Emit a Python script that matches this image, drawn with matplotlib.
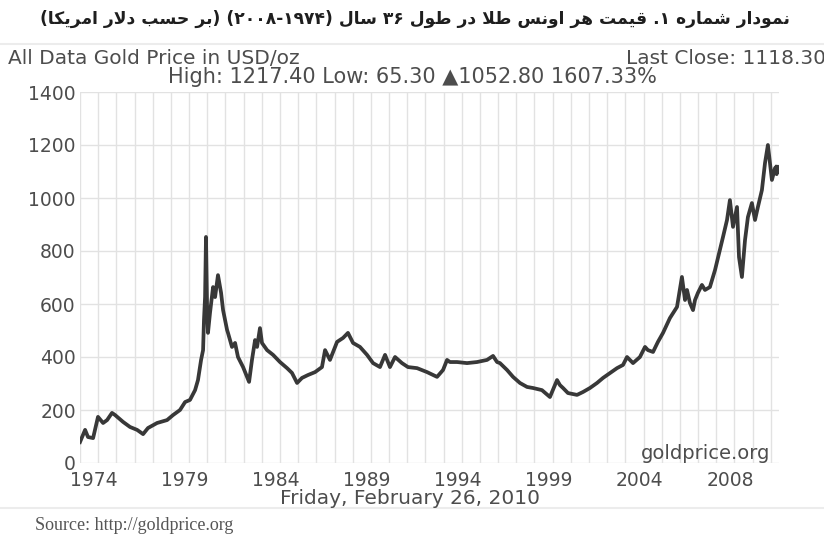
import re
import numpy as np
import matplotlib
matplotlib.use("Agg")
import matplotlib.pyplot as plt
from matplotlib.lines import Line2D

# position along the chart's time axis (0 = "1974" label, 5 per label step);
# the source chart's axis is not linear in calendar time, so values are read
# off the picture as positions, not dates
t_pos = [-0.77, -0.49, -0.33, -0.05, 0.22, 0.50, 0.72, 0.99, 1.16, 1.60,
         1.98, 2.37, 2.70, 2.97, 3.47, 4.02, 4.35, 4.73, 5.01, 5.28,
         5.56, 5.72, 5.89, 6.00, 6.05, 6.11, 6.16, 6.22, 6.27, 6.38,
         6.55, 6.66, 6.82, 6.99, 7.10, 7.21, 7.32, 7.37, 7.48, 7.59,
         7.76, 7.92, 8.20, 8.42, 8.53, 8.69, 8.86, 8.97, 9.13, 9.24,
         9.52, 9.85, 10.23, 10.62, 10.89, 11.17, 11.44, 11.77, 12.16, 12.54,
         12.71, 12.98, 13.37, 13.70, 13.97, 14.25, 14.63, 15.02, 15.35, 15.73,
         16.01, 16.28, 16.56, 16.94, 17.27, 17.77, 18.32, 18.87, 19.20, 19.42,
         19.58, 19.97, 20.52, 21.07, 21.62, 21.95, 22.17, 22.33, 22.72, 23.05,
         23.43, 23.82, 24.15, 24.64, 25.08, 25.47, 25.63, 25.80, 26.07, 26.57,
         26.90, 27.28, 27.67, 28.00, 28.39, 28.77, 29.10, 29.32, 29.65, 30.03,
         30.31, 30.47, 30.75, 31.02, 31.30, 31.68, 32.07, 32.34, 32.51, 32.62,
         32.78, 32.95, 33.06, 33.22, 33.44, 33.61, 33.88, 34.16, 34.43, 34.60,
         34.82, 34.98, 35.15, 35.37, 35.48, 35.64, 35.81, 35.97, 36.19, 36.36,
         36.52, 36.74, 36.91, 37.07, 37.29, 37.46, 37.53, 37.55, 37.57]
price = [79, 125, 98, 94, 174, 151, 162, 189, 181, 155,
         136, 125, 109, 132, 151, 162, 181, 200, 230, 238,
         275, 313, 389, 426, 540, 626, 853, 589, 491, 566,
         664, 626, 709, 642, 577, 540, 502, 491, 464, 438,
         453, 400, 362, 325, 306, 389, 464, 438, 509, 453,
         426, 408, 381, 358, 340, 302, 321, 332, 343, 362,
         426, 389, 457, 472, 491, 453, 438, 408, 377, 362,
         408, 362, 400, 377, 362, 358, 343, 325, 351, 389,
         381, 381, 377, 381, 389, 404, 381, 377, 351, 325,
         302, 287, 283, 275, 249, 313, 294, 283, 264, 257,
         268, 283, 302, 321, 340, 358, 370, 400, 377, 400,
         438, 426, 419, 457, 491, 547, 589, 702, 615, 653,
         604, 577, 615, 642, 672, 653, 664, 728, 804, 853,
         917, 992, 891, 966, 777, 702, 841, 928, 981, 917,
         966, 1030, 1132, 1200, 1068, 1113, 1118, 1090, 1118]

tick_pos = [0, 5, 10, 15, 20, 25, 30, 35]
tick_labels = ["1974", "1979", "1984", "1989", "1994", "1999", "2004", "2008"]
y_ticks = [0, 200, 400, 600, 800, 1000, 1200, 1400]

title = "نمودار شماره ۱. قیمت هر اونس طلا در طول ۳۶ سال (۲۰۰۸-۱۹۷۴) (بر حسب دلار امریکا)"

# --- minimal Persian shaping (matplotlib has no bidi / joining support) ---
FORMS = {  # isolated, final[, initial, medial]
    "ا": ("\uFE8D", "\uFE8E"),
    "د": ("\uFEA9", "\uFEAA"),
    "ر": ("\uFEAD", "\uFEAE"),
    "و": ("\uFEED", "\uFEEE"),
    "ب": ("\uFE8F", "\uFE90", "\uFE91", "\uFE92"),
    "ت": ("\uFE95", "\uFE96", "\uFE97", "\uFE98"),
    "ح": ("\uFEA1", "\uFEA2", "\uFEA3", "\uFEA4"),
    "س": ("\uFEB1", "\uFEB2", "\uFEB3", "\uFEB4"),
    "ش": ("\uFEB5", "\uFEB6", "\uFEB7", "\uFEB8"),
    "ط": ("\uFEC1", "\uFEC2", "\uFEC3", "\uFEC4"),
    "ق": ("\uFED5", "\uFED6", "\uFED7", "\uFED8"),
    "ل": ("\uFEDD", "\uFEDE", "\uFEDF", "\uFEE0"),
    "م": ("\uFEE1", "\uFEE2", "\uFEE3", "\uFEE4"),
    "ن": ("\uFEE5", "\uFEE6", "\uFEE7", "\uFEE8"),
    "ه": ("\uFEE9", "\uFEEA", "\uFEEB", "\uFEEC"),
    "ک": ("\uFB8E", "\uFB8F", "\uFB90", "\uFB91"),
    "ی": ("\uFBFC", "\uFBFD", "\uFBFE", "\uFBFF"),
}
MIRROR = {"(": ")", ")": "("}


def shape(word):
    out = []
    i = 0
    while i < len(word):
        ch = word[i]
        prev = word[i - 1] if i > 0 else None
        joins_prev = prev in FORMS and len(FORMS[prev]) == 4
        if ch == "ل" and i + 1 < len(word) and word[i + 1] == "ا":
            out.append("\uFEFC" if joins_prev else "\uFEFB")
            i += 2
            continue
        forms = FORMS[ch]
        nxt = word[i + 1] if i + 1 < len(word) else None
        joins_next = len(forms) == 4 and nxt in FORMS
        if joins_prev and joins_next:
            out.append(forms[3])
        elif joins_prev:
            out.append(forms[1])
        elif joins_next:
            out.append(forms[2])
        else:
            out.append(forms[0])
        i += 1
    return "".join(reversed(out))


def visual(text):
    words = []
    for w in reversed(text.split(" ")):
        runs = re.findall(r"[\u0600-\u06EF]+|[\u06F0-\u06F9][\u06F0-\u06F9\-]*|.", w)
        vis = []
        for r in reversed(runs):
            if r[0] in FORMS:
                vis.append(shape(r))
            else:
                vis.append(MIRROR.get(r, r))
        words.append("".join(vis))
    return " ".join(words)


W, H = 824, 537
fig = plt.figure(figsize=(W / 100, H / 100), dpi=100)
ax = fig.add_axes([80 / W, 1 - 463 / H, 699 / W, 371 / H])

txt = "#4d4d4d"
ax.plot(t_pos, price, color="#383838", lw=2.7, solid_joinstyle="round")

x0, x1 = -0.77, 37.68
ax.set_xlim(x0, x1)
ax.set_ylim(0, 1400)
ax.set_xticks(tick_pos)
ax.set_xticklabels(tick_labels)
ax.set_xticks(np.arange(x0, x1, 1.0), minor=True)
ax.set_yticks(y_ticks)
ax.tick_params(which="both", length=0, labelsize=13.5, labelcolor=txt)
ax.tick_params(axis="x", pad=6)
ax.tick_params(axis="y", pad=3)
ax.grid(True, which="minor", axis="x", color="#e2e2e2", lw=1)
ax.grid(True, which="major", axis="y", color="#e2e2e2", lw=1)
ax.set_axisbelow(True)
for s in ax.spines.values():
    s.set_visible(False)

ax.text(0.987, 0.025, "goldprice.org", transform=ax.transAxes, ha="right",
        va="center", fontsize=14, color=txt)

fig.text(415 / W, 1 - 19 / H, visual(title), ha="center", va="center",
         fontsize=12.3, fontweight="bold", color="#1e1e1e", family="DejaVu Sans")
fig.text(8 / W, 1 - 58 / H, "All Data Gold Price in USD/oz", ha="left",
         va="center", fontsize=14.5, color=txt)
fig.text(1.002, 1 - 58 / H, "Last Close: 1118.30", ha="right",
         va="center", fontsize=14.5, color=txt)
fig.text(412 / W, 1 - 77 / H, "High: 1217.40 Low: 65.30 \u25b21052.80 1607.33%",
         ha="center", va="center", fontsize=15, color=txt)
fig.text(410 / W, 1 - 498 / H, "Friday, February 26, 2010", ha="center",
         va="center", fontsize=14.5, color=txt)
fig.text(35 / W, 1 - 525 / H, "Source: http://goldprice.org", ha="left",
         va="center", fontsize=13, color="#555555", family="Liberation Serif")

for yy in (44, 508):
    fig.add_artist(Line2D([0, 1], [1 - yy / H, 1 - yy / H], color="#ececec",
                          lw=1.5, transform=fig.transFigure))

fig.savefig("out.png", dpi=100)
